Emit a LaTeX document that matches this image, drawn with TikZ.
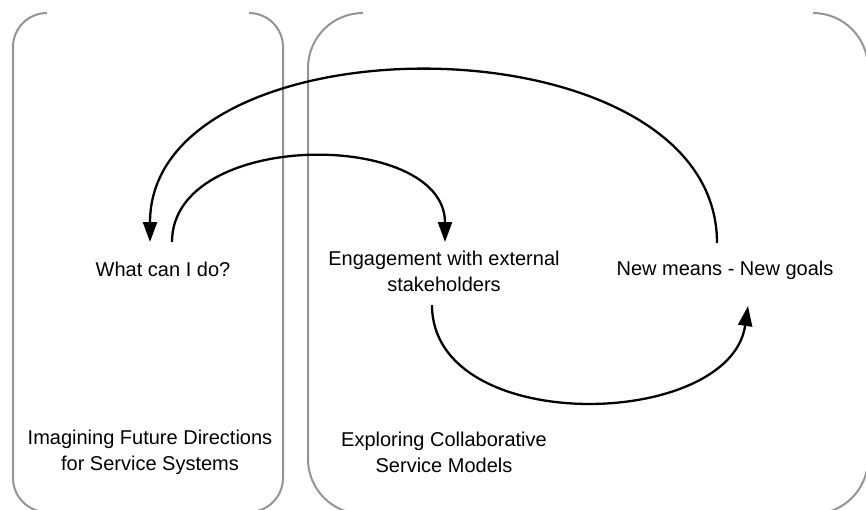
\documentclass[tikz,border=0pt]{standalone}
\usepackage{fontspec}
\setmainfont{Liberation Sans}
\usetikzlibrary{arrows.meta, positioning}

\begin{document}
\begin{tikzpicture}[x=1pt, y=-1pt,
      lbl/.style = {align=center, inner sep=0pt, font=\fontsize{20}{26}\selectfont},
      frame/.style = {draw=black!42, line width=2pt},
      flow/.style = {draw, line width=2.3pt, -{Triangle[length=20pt, width=14pt]}}]
      \useasboundingbox (0,0) rectangle (866,509);
      \clip (0,0) rectangle (866,509);

      \draw[frame, rounded corners=34] (47,13) -| (13,512) -| (283,13) -- (249,13);
      \draw[frame, rounded corners=55] (363,13) -| (308,514) -| (868,13) -- (813,13);

      \node[lbl] (what)    at (163,269) {What can I do?};
      \node[lbl] (engage)  at (444,271) {Engagement with external\\stakeholders};
      \node[lbl] (means)   at (725,270) {New means - New goals};
      \node[lbl] (imagine) at (150,452) {Imagining Future Directions\\for Service Systems};
      \node[lbl] (explore) at (444,452) {Exploring Collaborative\\Service Models};

      \path[flow] ([shift={(-8,-27)}]means.center)  .. controls +(0,-229) and +(0,-228) .. ([shift={(-13,-27)}]what.center);
      \path[flow] ([shift={(9,-27)}]what.center)    .. controls +(0,-113) and +(0,-113) .. ([shift={(1,-29)}]engage.center);
      \path[flow] ([shift={(-12,34)}]engage.center) .. controls +(0,132) and +(-18,124) .. ([shift={(23,36)}]means.center);
    \end{tikzpicture}
\end{document}
